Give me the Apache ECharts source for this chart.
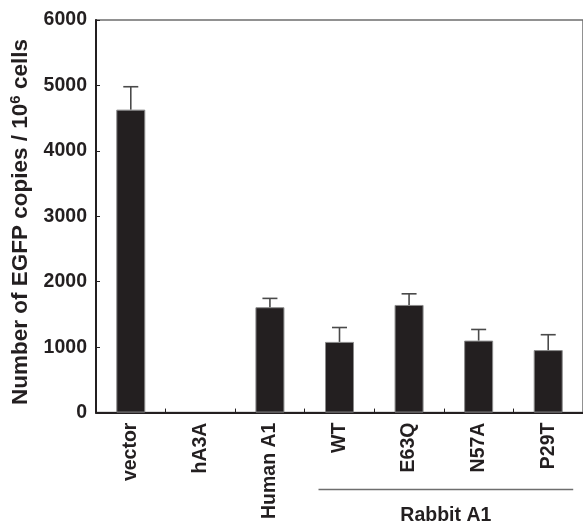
<!DOCTYPE html>
<html>
<head>
<meta charset="utf-8">
<script src="https://cdn.jsdelivr.net/npm/echarts@6/dist/echarts.min.js"></script>
<style>html,body{margin:0;padding:0;background:#fff;}#c{width:583px;height:522px;}</style>
</head>
<body>
<div id="c"></div>
<script>
var categories = ['vector', 'hA3A', 'Human A1', 'WT', 'E63Q', 'N57A', 'P29T'];
var values = [4630, 0, 1610, 1080, 1645, 1100, 955];
var errorTops = [4980, 0, 1745, 1300, 1815, 1270, 1190];
var yTicks = [0, 1000, 2000, 3000, 4000, 5000, 6000];
var groupLabel = 'Rabbit A1';
var groupStart = 3, groupEnd = 6;

var FONT = '"Liberation Sans", Arial, Helvetica, sans-serif';
var DARK = '#231f20';

var chart = echarts.init(document.getElementById('c'), null, {renderer: 'canvas'});

var option = {
  backgroundColor: '#fff',
  animation: false,
  grid: {
    left: 96, top: 20, width: 490, height: 392.7,
    show: true, borderColor: '#6e6e6e', borderWidth: 1.5, backgroundColor: 'transparent'
  },
  xAxis: {
    type: 'category',
    data: categories,
    boundaryGap: true,
    axisLine: {lineStyle: {color: DARK, width: 2}},
    axisTick: {show: true, inside: true, length: 4, lineStyle: {color: DARK, width: 1}},
    axisLabel: {rotate: 90, margin: 10, color: DARK, fontFamily: FONT, fontWeight: 'bold', fontSize: 19.5, interval: 0}
  },
  yAxis: {
    type: 'value',
    min: yTicks[0], max: yTicks[yTicks.length - 1], interval: 1000,
    axisLine: {show: true, lineStyle: {color: DARK, width: 2}},
    axisTick: {show: true, inside: true, length: 4, lineStyle: {color: DARK, width: 1}},
    splitLine: {show: false},
    axisLabel: {
      margin: 9, color: DARK, fontFamily: FONT, fontWeight: 'bold', fontSize: 19.5,
      formatter: function (v) { return String(v); }
    }
  },
  series: [
    {
      type: 'bar',
      data: values.map(function (v) {
        return v === 0 ? {value: v, itemStyle: {borderWidth: 0, opacity: 0}} : v;
      }),
      barWidth: 29,
      itemStyle: {color: DARK, borderColor: '#8a8a8a', borderWidth: 1},
      z: 3
    },
    {
      type: 'custom',
      z: 4,
      data: values.map(function (v, i) { return [i, v, errorTops[i]]; }),
      renderItem: function (params, api) {
        var i = api.value(0);
        if (api.value(2) <= api.value(1)) return null;
        var base = api.coord([i, api.value(1)]);
        var top = api.coord([i, api.value(2)]);
        var half = 7.5;
        return {
          type: 'group',
          children: [
            {type: 'line', shape: {x1: base[0], y1: base[1], x2: top[0], y2: top[1]}, style: {stroke: '#4a4a4a', lineWidth: 1.6}},
            {type: 'line', shape: {x1: top[0] - half, y1: top[1], x2: top[0] + half, y2: top[1]}, style: {stroke: '#4a4a4a', lineWidth: 1.6}}
          ]
        };
      }
    }
  ]
};
chart.setOption(option);

var xs = chart.convertToPixel({xAxisIndex: 0}, categories[groupStart]);
var xe = chart.convertToPixel({xAxisIndex: 0}, categories[groupEnd]);
var x1 = xs - 21, x2 = xe + 25;
chart.setOption({
  graphic: [
    {
      type: 'line', shape: {x1: x1, y1: 489.5, x2: x2, y2: 489.5},
      style: {stroke: '#6e6e6e', lineWidth: 1.5}
    },
    {
      type: 'text', x: (x1 + x2) / 2, y: 516,
      style: {text: groupLabel, fill: DARK, font: 'bold 19.5px ' + FONT, align: 'center', verticalAlign: 'middle'}
    },
    {
      type: 'text', x: 21, y: 222, rotation: Math.PI / 2,
      style: {
        text: '{a|Number of EGFP copies / 10}{s|6}{a| cells}',
        align: 'center', verticalAlign: 'middle',
        rich: {
          a: {fontFamily: FONT, fontWeight: 'bold', fontSize: 22.5, fill: DARK, color: DARK},
          s: {fontFamily: FONT, fontWeight: 'bold', fontSize: 15, fill: DARK, color: DARK, verticalAlign: 'top', padding: [0, 0, 10, 0]}
        }
      }
    }
  ]
});
</script>
</body>
</html>
